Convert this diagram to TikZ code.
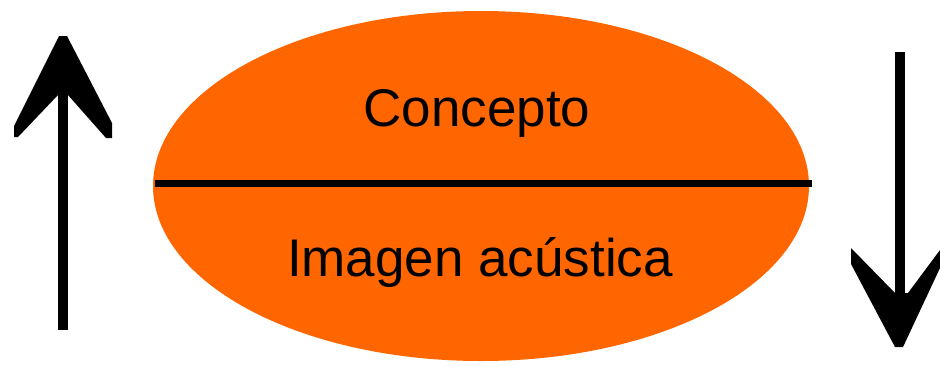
\documentclass[tikz,border=0pt]{standalone}
\usepackage{fontspec}
\setmainfont{Liberation Sans}
\definecolor{sorange}{HTML}{FF6600}
\tikzset{
  shaft/.style={line width=10pt},
  headfill/.style={fill=black},
  label/.style={font=\fontsize{53}{60}\selectfont, inner sep=0pt, anchor=base, text=black}
}
\begin{document}
\begin{tikzpicture}[x=1pt,y=-1pt]
\useasboundingbox (0,0) rectangle (940,365);
% ellipse
\fill[sorange] (481,186) ellipse [x radius=328, y radius=175];
\coordinate (divl) at (155,183);
\coordinate (divr) at (812,183);
\draw[line width=7pt] (divl) -- (divr);
\node[label] (concepto) at (477,126) {Concepto};
\node[label] (imagen) at (480,276) {Imagen acústica};
% left arrow (up)
\coordinate (lbot) at (63,330);
\coordinate (ltop) at (63,90);
\draw[shaft] (lbot) -- (ltop);
\fill[headfill] (59,36) -- (67,36) -- (112,123) -- (112,138) -- (106,138) -- (68,95) -- (58,95) -- (18,137) -- (14,137) -- (14,126) -- cycle;
% right arrow (down)
\coordinate (rtop) at (900,52);
\coordinate (rbot) at (900,298);
\draw[shaft] (rtop) -- (rbot);
\fill[headfill] (851,248) -- (895,293) -- (908,293) -- (940,250) -- (940,268) -- (903,347) -- (895,347) -- (851,264) -- cycle;
\end{tikzpicture}
\end{document}
